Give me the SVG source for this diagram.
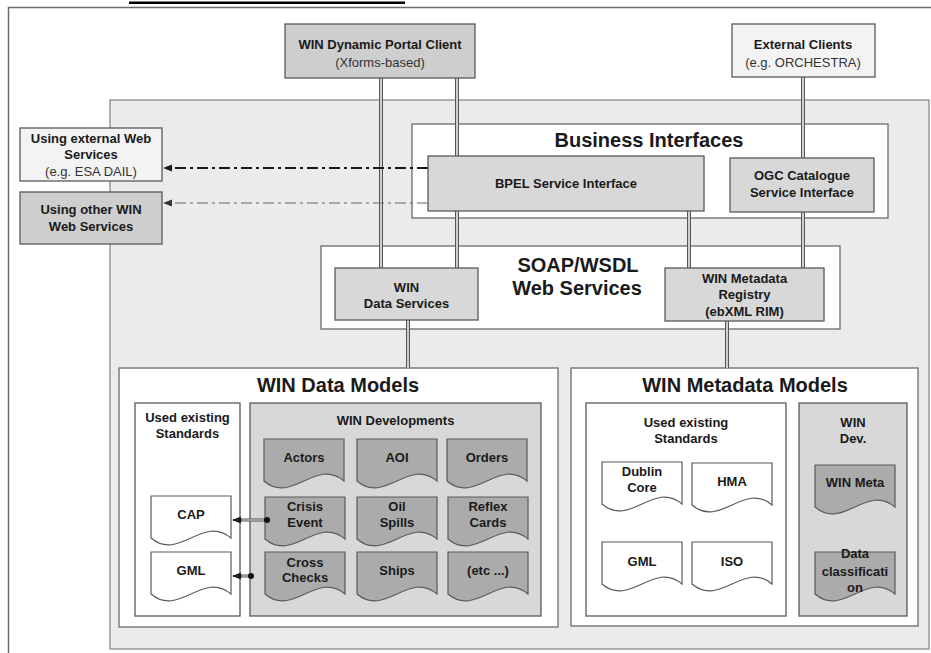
<svg xmlns="http://www.w3.org/2000/svg" xmlns:xlink="http://www.w3.org/1999/xlink" width="931" height="653" viewBox="0 0 931 653">
  <defs>
    <style>
      text { font-family: "Liberation Sans", Arial, sans-serif; fill: #1a1a1a; text-anchor: middle; }
      .lbl { font-size: 13px; font-weight: bold; }
      .sub { font-size: 13px; font-weight: normal; fill: #333; }
      .ttl { font-size: 20px; font-weight: bold; }
      .box { stroke: #5a5a5a; stroke-width: 1.3; }
      .frame { fill: #ffffff; stroke: #6a6a6a; stroke-width: 1.3; }
      .mid { fill: #d8d8d8; }
      .dark { fill: #cecece; }
      .light { fill: #f3f3f3; }
      .doc-dark { fill: #ababab; stroke: #5a5a5a; stroke-width: 1.2; }
      .doc-white { fill: #ffffff; stroke: #5a5a5a; stroke-width: 1.2; }
      .pipe-out { fill: none; stroke: #555555; stroke-width: 4; }
      .pipe-in { fill: none; stroke: #eeeeee; stroke-width: 1.6; }
      .link-out { fill: none; stroke: #555555; stroke-width: 3; }
      .link-in { fill: none; stroke: #e4e4e4; stroke-width: 1; }
      .link-head { fill: none; stroke: #333333; stroke-width: 1.5; }
      .dash-main { fill: none; stroke: #1a1a1a; stroke-width: 1.8; stroke-dasharray: 11 4 3 4; }
      .dash-soft { fill: none; stroke: #666666; stroke-width: 1.2; stroke-dasharray: 11 4 3 4; }
    </style>
    <!-- document shape with wavy bottom edge, 80 wide -->
    <path id="doc" d="M0,0 H80 V42 C52,18 28,66 0,42 Z"/>
    <marker id="arrowDark" viewBox="0 0 10 10" refX="9" refY="5" markerWidth="9" markerHeight="9" markerUnits="userSpaceOnUse" orient="auto">
      <path d="M0,1 L10,5 L0,9 Z" fill="#1a1a1a"/>
    </marker>
    <marker id="arrowSoft" viewBox="0 0 10 10" refX="9" refY="5" markerWidth="9" markerHeight="9" markerUnits="userSpaceOnUse" orient="auto">
      <path d="M0,1 L10,5 L0,9 Z" fill="#333333"/>
    </marker>
  </defs>

  <rect width="931" height="653" fill="#ffffff"/>

  <!-- caption rule -->
  <rect x="129" y="1.5" width="276" height="2.5" fill="#000000"/>

  <!-- outer frame (open to the right and bottom) -->
  <path d="M931,7.5 H8.5 V653" fill="none" stroke="#6a6a6a" stroke-width="1.5"/>

  <!-- system area -->
  <rect id="system-area" x="110" y="100" width="819" height="549" fill="#ebebeb" stroke="#8a8a8a" stroke-width="1.3"/>

  <!-- containers -->
  <g id="business-interfaces">
    <rect class="frame" x="412" y="124" width="476" height="94"/>
    <text class="ttl" x="649" y="147">Business Interfaces</text>
  </g>
  <g id="soap-wsdl">
    <rect class="frame" x="321" y="246" width="519" height="83"/>
    <text class="ttl" x="578" y="272">SOAP/WSDL</text>
    <text class="ttl" x="577" y="295">Web Services</text>
  </g>
  <g id="win-data-models">
    <rect class="frame" x="119" y="368" width="439" height="259"/>
    <text class="ttl" x="338" y="392">WIN Data Models</text>
  </g>
  <g id="win-metadata-models">
    <rect class="frame" x="571" y="368" width="347" height="258"/>
    <text class="ttl" x="745" y="392">WIN Metadata Models</text>
  </g>

  <!-- connectors -->
  <g id="connectors">
    <g class="pipes">
      <path class="pipe-out" d="M381,78 V268 M457,78 V268 M689,211 V268 M803,77 V268 M408,320 V368 M727,321 V368"/>
      <path class="pipe-in" d="M381,78 V268 M457,78 V268 M689,211 V268 M803,77 V268 M408,320 V368 M727,321 V368"/>
    </g>
    <path class="dash-main" d="M428,168 H164" marker-end="url(#arrowDark)"/>
    <path class="dash-soft" d="M428,203 H164" marker-end="url(#arrowSoft)"/>
  </g>

  <!-- external actors -->
  <g id="portal-client">
    <rect class="box dark" x="285" y="24" width="190" height="54"/>
    <text class="lbl" x="380" y="48.5">WIN Dynamic Portal Client</text>
    <text class="sub" x="380" y="66.5">(Xforms-based)</text>
  </g>
  <g id="external-clients">
    <rect class="box light" x="732" y="24" width="143" height="53"/>
    <text class="lbl" x="803" y="48.5">External Clients</text>
    <text class="sub" x="803" y="66.5">(e.g. ORCHESTRA)</text>
  </g>
  <g id="external-web-services">
    <rect class="box light" x="20" y="128" width="142" height="53"/>
    <text class="lbl" x="91" y="142.5">Using external Web</text>
    <text class="lbl" x="91" y="158.5">Services</text>
    <text class="sub" x="91" y="175.5">(e.g. ESA DAIL)</text>
  </g>
  <g id="other-win-services">
    <rect class="box dark" x="20" y="192" width="142" height="52"/>
    <text class="lbl" x="91" y="213.5">Using other WIN</text>
    <text class="lbl" x="91" y="230.5">Web Services</text>
  </g>

  <!-- business interface nodes -->
  <g id="bpel">
    <rect class="box mid" x="428" y="156" width="276" height="55"/>
    <text class="lbl" x="566" y="187.5">BPEL Service Interface</text>
  </g>
  <g id="ogc-catalogue">
    <rect class="box mid" x="730" y="158" width="144" height="54"/>
    <text class="lbl" x="802" y="179.5">OGC Catalogue</text>
    <text class="lbl" x="802" y="196.5">Service Interface</text>
  </g>

  <!-- web service nodes -->
  <g id="data-services">
    <rect class="box mid" x="335" y="268" width="143" height="52"/>
    <text class="lbl" x="406.5" y="291.5">WIN</text>
    <text class="lbl" x="406.5" y="307.5">Data Services</text>
  </g>
  <g id="metadata-registry">
    <rect class="box mid" x="665" y="268" width="159" height="53"/>
    <text class="lbl" x="744.5" y="282.5">WIN Metadata</text>
    <text class="lbl" x="744.5" y="298.5">Registry</text>
    <text class="lbl" x="744.5" y="315.5">(ebXML RIM)</text>
  </g>

  <!-- data model groups -->
  <g id="data-standards">
    <rect class="box" fill="#ffffff" x="135" y="403" width="105" height="213"/>
    <text class="lbl" x="187.5" y="421.5">Used existing</text>
    <text class="lbl" x="187.5" y="437.5">Standards</text>
  </g>
  <g id="win-developments">
    <rect class="box mid" x="250" y="403" width="291" height="213"/>
    <text class="lbl" x="395.5" y="424.5">WIN Developments</text>
  </g>

  <g id="doc-cap">
    <use xlink:href="#doc" class="doc-white" x="151" y="496"/>
    <text class="lbl" x="191" y="518.5">CAP</text>
  </g>
  <g id="doc-gml-data">
    <use xlink:href="#doc" class="doc-white" x="151" y="552"/>
    <text class="lbl" x="191" y="574.5">GML</text>
  </g>

  <g id="doc-actors">
    <use xlink:href="#doc" class="doc-dark" x="264" y="439"/>
    <text class="lbl" x="304" y="461.5">Actors</text>
  </g>
  <g id="doc-aoi">
    <use xlink:href="#doc" class="doc-dark" x="357" y="439"/>
    <text class="lbl" x="397" y="461.5">AOI</text>
  </g>
  <g id="doc-orders">
    <use xlink:href="#doc" class="doc-dark" x="447" y="439"/>
    <text class="lbl" x="487" y="461.5">Orders</text>
  </g>
  <g id="doc-crisis-event">
    <use xlink:href="#doc" class="doc-dark" x="265" y="497"/>
    <text class="lbl" x="305" y="510.5">Crisis</text>
    <text class="lbl" x="305" y="526.5">Event</text>
  </g>
  <g id="doc-oil-spills">
    <use xlink:href="#doc" class="doc-dark" x="357" y="497"/>
    <text class="lbl" x="397" y="510.5">Oil</text>
    <text class="lbl" x="397" y="526.5">Spills</text>
  </g>
  <g id="doc-reflex-cards">
    <use xlink:href="#doc" class="doc-dark" x="448" y="497"/>
    <text class="lbl" x="488" y="510.5">Reflex</text>
    <text class="lbl" x="488" y="526.5">Cards</text>
  </g>
  <g id="doc-cross-checks">
    <use xlink:href="#doc" class="doc-dark" x="265" y="552"/>
    <text class="lbl" x="305" y="566.5">Cross</text>
    <text class="lbl" x="305" y="581.5">Checks</text>
  </g>
  <g id="doc-ships">
    <use xlink:href="#doc" class="doc-dark" x="357" y="552"/>
    <text class="lbl" x="397" y="574.5">Ships</text>
  </g>
  <g id="doc-etc">
    <use xlink:href="#doc" class="doc-dark" x="448" y="552"/>
    <text class="lbl" x="488" y="574.5">(etc ...)</text>
  </g>

  <!-- links from WIN developments to the standards they build on -->
  <g id="standard-links">
    <path class="link-out" d="M267,520 H241 M251,576 H241"/>
    <path class="link-in" d="M267,520 H241 M251,576 H241"/>
    <path class="link-head" d="M242,520 H233" marker-end="url(#arrowDark)"/>
    <path class="link-head" d="M242,576 H233" marker-end="url(#arrowDark)"/>
    <circle cx="267" cy="520" r="3" fill="#111"/>
    <circle cx="251" cy="576" r="3" fill="#111"/>
  </g>

  <!-- metadata model groups -->
  <g id="metadata-standards">
    <rect class="box" fill="#ffffff" x="586" y="403" width="200" height="213"/>
    <text class="lbl" x="686" y="426.5">Used existing</text>
    <text class="lbl" x="686" y="442.5">Standards</text>
  </g>
  <g id="win-dev">
    <rect class="box mid" x="799" y="403" width="108" height="213"/>
    <text class="lbl" x="853" y="426.5">WIN</text>
    <text class="lbl" x="853" y="442.5">Dev.</text>
  </g>

  <g id="doc-dublin-core">
    <use xlink:href="#doc" class="doc-white" x="602" y="462"/>
    <text class="lbl" x="642" y="475.5">Dublin</text>
    <text class="lbl" x="642" y="491.5">Core</text>
  </g>
  <g id="doc-hma">
    <use xlink:href="#doc" class="doc-white" x="692" y="463"/>
    <text class="lbl" x="732" y="485.5">HMA</text>
  </g>
  <g id="doc-gml-meta">
    <use xlink:href="#doc" class="doc-white" x="602" y="542"/>
    <text class="lbl" x="642" y="565.5">GML</text>
  </g>
  <g id="doc-iso">
    <use xlink:href="#doc" class="doc-white" x="692" y="542"/>
    <text class="lbl" x="732" y="565.5">ISO</text>
  </g>
  <g id="doc-win-meta">
    <use xlink:href="#doc" class="doc-dark" x="815" y="465"/>
    <text class="lbl" x="855" y="486.5">WIN Meta</text>
  </g>
  <g id="doc-data-classification">
    <use xlink:href="#doc" class="doc-dark" x="815" y="552"/>
    <text class="lbl" x="855" y="557.5">Data</text>
    <text class="lbl" x="855" y="575.5">classificati</text>
    <text class="lbl" x="855" y="591.5">on</text>
  </g>
</svg>
